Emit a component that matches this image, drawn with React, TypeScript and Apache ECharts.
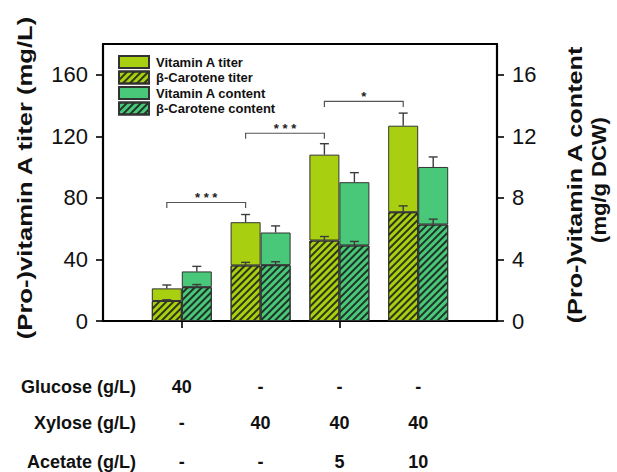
import React, { useEffect, useRef } from 'react';
import * as echarts from 'echarts';

// ---------- data ----------
const groups = ['Glucose', 'Xylose', 'Xylose + Acetate 5', 'Xylose + Acetate 10'];
const betaCaroteneTiter = [13.0, 36.1, 52.3, 70.7];
const betaCaroteneTiterErr = [0.8, 2.0, 2.6, 4.1];
const vitaminATiter = [8.2, 28.1, 55.8, 56.2];
const vitaminATiterErr = [2.2, 5.0, 7.1, 8.2];
const betaCaroteneContent = [2.2, 3.63, 4.91, 6.27];
const betaCaroteneContentErr = [0.17, 0.22, 0.26, 0.35];
const vitaminAContent = [1.02, 2.12, 4.11, 3.74];
const vitaminAContentErr = [0.33, 0.43, 0.62, 0.65];

const leftTicks = [0, 40, 80, 120, 160];
const rightTicks = [0, 4, 8, 12, 16];

const rowNames = ['Glucose (g/L)', 'Xylose (g/L)', 'Acetate (g/L)'];
const glucoseRow = ['40', '-', '-', '-'];
const xyloseRow = ['-', '40', '40', '40'];
const acetateRow = ['-', '-', '5', '10'];

// significance brackets: from group index, to group index, level (mg/L), label
const bracketFrom = [0, 1, 2];
const bracketTo = [1, 2, 3];
const bracketLevel = [77, 122, 142.7];
const bracketLabel = ['* * *', '* * *', '*'];

const legendNames = ['Vitamin A titer', 'β-Carotene titer', 'Vitamin A content', 'β-Carotene content'];

// ---------- styles ----------
const FONT = "'Liberation Sans', Arial, Helvetica, sans-serif";
const TITER_COLOR = '#a8d010';
const CONTENT_COLOR = '#48c878';
const BORDER = '#333333';
const BAR_W = 30;
const hatch = {
  symbol: 'rect',
  symbolSize: 1,
  dashArrayX: [1, 0],
  dashArrayY: [1.2, 2.8],
  rotation: -Math.PI / 4,
  color: 'rgba(25,25,25,0.85)',
};
const FRAME = { color: '#000', width: 2.2 };

function errorSeries(tops: number[], errs: number[], yAxisIndex: number, offset: number) {
  return {
    type: 'custom',
    xAxisIndex: 2,
    yAxisIndex,
    silent: true,
    z: 5,
    data: groups.map((_g, i) => [i, tops[i], errs[i]]),
    renderItem: (_p: any, api: any) => {
      const x = api.value(0);
      const y = api.value(1);
      const e = api.value(2);
      const p0 = api.coord([x, y]);
      const p1 = api.coord([x, y + e]);
      const cx = p0[0] + offset;
      const st = { stroke: '#3c3c3c', lineWidth: 1.4 };
      return {
        type: 'group',
        children: [
          { type: 'line', shape: { x1: cx, y1: p0[1], x2: cx, y2: p1[1] }, style: st },
          { type: 'line', shape: { x1: cx - 4.5, y1: p1[1], x2: cx + 4.5, y2: p1[1] }, style: st },
        ],
      };
    },
  };
}

function tableAxis(row: string[], offset: number) {
  return {
    type: 'category',
    gridIndex: 1,
    position: 'bottom',
    offset,
    data: groups,
    axisLine: { show: false },
    axisTick: { show: false },
    splitLine: { show: false },
    axisLabel: {
      show: true,
      interval: 0,
      margin: 0,
      fontFamily: FONT,
      fontWeight: 'bold',
      fontSize: 18,
      color: '#111',
      formatter: (_v: string, idx: number) => row[idx],
    },
  };
}

export default function App() {
  const ref = useRef<HTMLDivElement>(null);
  useEffect(() => {
    if (!ref.current) return;
    const chart = echarts.init(ref.current, null, { renderer: 'svg' });
    const titerTop = betaCaroteneTiter.map((b, i) => b + vitaminATiter[i]);
    const contentTop = betaCaroteneContent.map((b, i) => b + vitaminAContent[i]);

    const frameW = 394;
    const option: any = {
      animation: false,
      backgroundColor: '#ffffff',
      grid: [
        { left: 103, top: 44, width: frameW, height: 277, containLabel: false },
        { left: 103 + frameW / 10, top: 44, width: (frameW * 8) / 10, height: 277, containLabel: false },
      ],
      legend: {
        data: legendNames,
        orient: 'vertical',
        left: 118,
        top: 55,
        padding: 0,
        itemWidth: 30,
        itemHeight: 12,
        itemGap: 1.5,
        icon: 'rect',
        selectedMode: false,
        textStyle: {
          fontFamily: FONT,
          fontWeight: 'bold',
          fontSize: 13,
          lineHeight: 12,
          color: '#111',
          padding: [0, 0, 0, 2],
        },
      },
      xAxis: [
        {
          type: 'value',
          gridIndex: 0,
          min: 0,
          max: 1,
          position: 'bottom',
          axisLine: { show: true, onZero: false, lineStyle: FRAME },
          axisTick: { show: false },
          axisLabel: { show: false },
          splitLine: { show: false },
        },
        {
          type: 'value',
          gridIndex: 0,
          min: 0,
          max: 1,
          position: 'top',
          axisLine: { show: true, onZero: false, lineStyle: FRAME },
          axisTick: { show: false },
          axisLabel: { show: false },
          splitLine: { show: false },
        },
        {
          type: 'category',
          gridIndex: 1,
          data: groups,
          position: 'bottom',
          axisLine: { show: false },
          axisTick: { show: true, alignWithLabel: true, length: 7, lineStyle: { color: '#000', width: 1.6 } },
          axisLabel: { show: false },
          splitLine: { show: false },
        },
        tableAxis(glucoseRow, 57),
        tableAxis(xyloseRow, 93),
        tableAxis(acetateRow, 132),
      ],
      yAxis: [
        {
          type: 'value',
          gridIndex: 0,
          min: 0,
          max: 180,
          position: 'left',
          axisLine: { show: true, onZero: false, lineStyle: FRAME },
          axisTick: { show: true, customValues: leftTicks, length: 7, lineStyle: { color: '#000', width: 1.6 } },
          axisLabel: { customValues: leftTicks, margin: 15, fontFamily: FONT, fontSize: 22, color: '#111' },
          splitLine: { show: false },
        },
        {
          type: 'value',
          gridIndex: 0,
          min: 0,
          max: 18,
          position: 'right',
          axisLine: { show: true, onZero: false, lineStyle: FRAME },
          axisTick: { show: true, customValues: rightTicks, length: 7, lineStyle: { color: '#000', width: 1.6 } },
          axisLabel: { customValues: rightTicks, margin: 15, fontFamily: FONT, fontSize: 22, color: '#111' },
          splitLine: { show: false },
        },
        { type: 'value', gridIndex: 1, min: 0, max: 180, show: false },
        { type: 'value', gridIndex: 1, min: 0, max: 18, show: false },
      ],
      series: [
        {
          name: 'β-Carotene titer',
          type: 'bar',
          stack: 'titer',
          xAxisIndex: 2,
          yAxisIndex: 2,
          barWidth: BAR_W,
          barGap: '0%',
          itemStyle: { color: TITER_COLOR, borderColor: BORDER, borderWidth: 1, decal: hatch },
          data: betaCaroteneTiter,
        },
        {
          name: 'Vitamin A titer',
          type: 'bar',
          stack: 'titer',
          xAxisIndex: 2,
          yAxisIndex: 2,
          barWidth: BAR_W,
          barGap: '0%',
          itemStyle: { color: TITER_COLOR, borderColor: BORDER, borderWidth: 1 },
          data: vitaminATiter,
        },
        {
          name: 'β-Carotene content',
          type: 'bar',
          stack: 'content',
          xAxisIndex: 2,
          yAxisIndex: 3,
          barWidth: BAR_W,
          barGap: '0%',
          itemStyle: { color: CONTENT_COLOR, borderColor: BORDER, borderWidth: 1, decal: hatch },
          data: betaCaroteneContent,
        },
        {
          name: 'Vitamin A content',
          type: 'bar',
          stack: 'content',
          xAxisIndex: 2,
          yAxisIndex: 3,
          barWidth: BAR_W,
          barGap: '0%',
          itemStyle: { color: CONTENT_COLOR, borderColor: BORDER, borderWidth: 1 },
          data: vitaminAContent,
        },
        errorSeries(betaCaroteneTiter, betaCaroteneTiterErr, 2, -BAR_W / 2),
        errorSeries(titerTop, vitaminATiterErr, 2, -BAR_W / 2),
        errorSeries(betaCaroteneContent, betaCaroteneContentErr, 3, BAR_W / 2),
        errorSeries(contentTop, vitaminAContentErr, 3, BAR_W / 2),
        {
          type: 'custom',
          xAxisIndex: 2,
          yAxisIndex: 2,
          silent: true,
          z: 6,
          data: bracketFrom.map((f, i) => [f, bracketTo[i], bracketLevel[i], i]),
          renderItem: (_p: any, api: any) => {
            const a = api.coord([api.value(0), api.value(2)]);
            const b = api.coord([api.value(1), api.value(2)]);
            const x1 = a[0] - BAR_W / 2;
            const x2 = b[0] - BAR_W / 2;
            const y = a[1];
            const label = bracketLabel[api.value(3)];
            return {
              type: 'group',
              children: [
                {
                  type: 'polyline',
                  shape: { points: [[x1, y + 5.5], [x1, y], [x2, y], [x2, y + 5.5]] },
                  style: { stroke: '#555', lineWidth: 1.2, fill: 'none' },
                },
                {
                  type: 'text',
                  x: (x1 + x2) / 2,
                  y: y - 5,
                  style: {
                    text: label,
                    fontFamily: FONT,
                    fontWeight: 'bold',
                    fontSize: 13,
                    fill: '#222',
                    align: 'center',
                    verticalAlign: 'middle',
                  },
                },
              ],
            };
          },
        },
      ],
      graphic: [
        {
          type: 'text',
          x: 25,
          y: 178,
          rotation: Math.PI / 2,
          scaleX: 1.22,
          style: {
            text: '(Pro-)vitamin A titer (mg/L)',
            fontFamily: FONT,
            fontWeight: 'bold',
            fontSize: 21,
            fill: '#111',
            align: 'center',
            verticalAlign: 'middle',
          },
        },
        {
          type: 'text',
          x: 575,
          y: 185,
          rotation: Math.PI / 2,
          scaleX: 1.2,
          style: {
            text: '(Pro-)vitamin A content',
            fontFamily: FONT,
            fontWeight: 'bold',
            fontSize: 21,
            fill: '#111',
            align: 'center',
            verticalAlign: 'middle',
          },
        },
        {
          type: 'text',
          x: 599,
          y: 180,
          rotation: Math.PI / 2,
          scaleX: 1.1,
          style: {
            text: '(mg/g DCW)',
            fontFamily: FONT,
            fontWeight: 'bold',
            fontSize: 20,
            fill: '#111',
            align: 'center',
            verticalAlign: 'middle',
          },
        },
        ...rowNames.map((t, i) => ({
          type: 'text',
          x: 136,
          y: [387, 423, 462][i],
          style: {
            text: t,
            fontFamily: FONT,
            fontWeight: 'bold',
            fontSize: 18,
            fill: '#111',
            align: 'right',
            verticalAlign: 'middle',
          },
        })),
      ],
    };
    chart.setOption(option);
    return () => chart.dispose();
  }, []);
  return (
    <div
      ref={ref}
      style={{ position: 'absolute', left: 0, top: 0, width: 617, height: 472, background: '#fff' }}
    />
  );
}
